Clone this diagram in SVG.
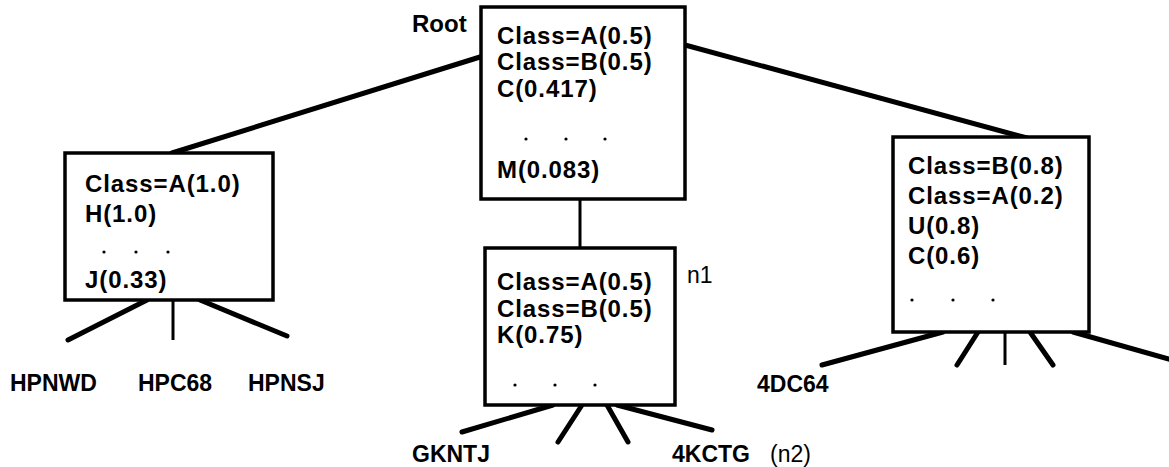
<svg xmlns="http://www.w3.org/2000/svg" width="1169" height="467" viewBox="0 0 1169 467">
  <style>
    .box { fill: #fff; stroke: #000; stroke-width: 3.5; }
    .edge { stroke: #000; stroke-width: 5; stroke-linecap: round; fill: none; }
    .thin { stroke: #000; stroke-width: 3; fill: none; }
    .t { font-family: "Liberation Sans", Arial, sans-serif; font-size: 24px; font-weight: bold; fill: #000; letter-spacing: 0.9px; }
    .lbl { font-family: "Liberation Sans", Arial, sans-serif; font-size: 23px; font-weight: bold; fill: #000; }
    .dot { fill: #000; }
  </style>

  <!-- connectors -->
  <g id="connectors">
    <line class="edge" x1="480" y1="57" x2="172" y2="153"/>
    <line class="edge" x1="685" y1="45" x2="1027" y2="138"/>
    <line class="thin" x1="580" y1="200" x2="580" y2="248"/>
    <!-- leaves of left node -->
    <line class="edge" x1="147" y1="300" x2="68" y2="340"/>
    <line class="thin" x1="173" y1="300" x2="173" y2="340"/>
    <line class="edge" x1="200" y1="300" x2="287" y2="336"/>
    <!-- leaves of n1 -->
    <line class="edge" x1="553" y1="405" x2="462" y2="432"/>
    <line class="edge" x1="582" y1="405" x2="558" y2="442"/>
    <line class="edge" x1="607" y1="405" x2="628" y2="442"/>
    <line class="edge" x1="617" y1="405" x2="712" y2="430"/>
    <!-- leaves of right node -->
    <line class="edge" x1="943" y1="332" x2="822" y2="365"/>
    <line class="edge" x1="978" y1="332" x2="957" y2="365"/>
    <line class="thin" x1="1005" y1="332" x2="1005" y2="365"/>
    <line class="edge" x1="1030" y1="332" x2="1053" y2="365"/>
    <line class="edge" x1="1073" y1="332" x2="1172" y2="360"/>
  </g>

  <!-- root node -->
  <g id="root">
    <text class="t" x="412" y="32" style="letter-spacing:0">Root</text>
    <rect class="box" x="481" y="7" width="204" height="192"/>
    <text class="t" x="497" y="44">Class=A(0.5)</text>
    <text class="t" x="497" y="70">Class=B(0.5)</text>
    <text class="t" x="497" y="97">C(0.417)</text>
    <circle class="dot" cx="526" cy="139" r="1.6"/>
    <circle class="dot" cx="566" cy="139" r="1.6"/>
    <circle class="dot" cx="605" cy="139" r="1.6"/>
    <text class="t" x="497" y="178">M(0.083)</text>
  </g>

  <!-- left node -->
  <g id="left">
    <rect class="box" x="65" y="153" width="208" height="147"/>
    <text class="t" x="85" y="192">Class=A(1.0)</text>
    <text class="t" x="85" y="222">H(1.0)</text>
    <circle class="dot" cx="104" cy="252" r="1.6"/>
    <circle class="dot" cx="136" cy="252" r="1.6"/>
    <circle class="dot" cx="168" cy="252" r="1.6"/>
    <text class="t" x="85" y="288">J(0.33)</text>
  </g>

  <!-- node n1 -->
  <g id="n1">
    <rect class="box" x="485" y="248" width="190" height="157"/>
    <text class="t" x="497" y="290">Class=A(0.5)</text>
    <text class="t" x="497" y="317">Class=B(0.5)</text>
    <text class="t" x="497" y="343">K(0.75)</text>
    <circle class="dot" cx="515" cy="385" r="1.6"/>
    <circle class="dot" cx="555" cy="385" r="1.6"/>
    <circle class="dot" cx="595" cy="385" r="1.6"/>
    <text class="lbl" x="687" y="283" style="font-weight:normal">n1</text>
  </g>

  <!-- right node -->
  <g id="right">
    <rect class="box" x="893" y="137" width="196" height="195"/>
    <text class="t" x="908" y="174">Class=B(0.8)</text>
    <text class="t" x="908" y="204">Class=A(0.2)</text>
    <text class="t" x="908" y="234">U(0.8)</text>
    <text class="t" x="908" y="264">C(0.6)</text>
    <circle class="dot" cx="912" cy="300" r="1.6"/>
    <circle class="dot" cx="953" cy="300" r="1.6"/>
    <circle class="dot" cx="993" cy="300" r="1.6"/>
  </g>

  <!-- leaf labels -->
  <g id="leaves">
    <text class="lbl" x="10" y="391">HPNWD</text>
    <text class="lbl" x="138" y="391">HPC68</text>
    <text class="lbl" x="248" y="391">HPNSJ</text>
    <text class="lbl" x="412" y="462">GKNTJ</text>
    <text class="lbl" x="672" y="462">4KCTG</text>
    <text class="lbl" x="770" y="462" style="font-weight:normal">(n2)</text>
    <text class="lbl" x="757" y="392">4DC64</text>
  </g>
</svg>
